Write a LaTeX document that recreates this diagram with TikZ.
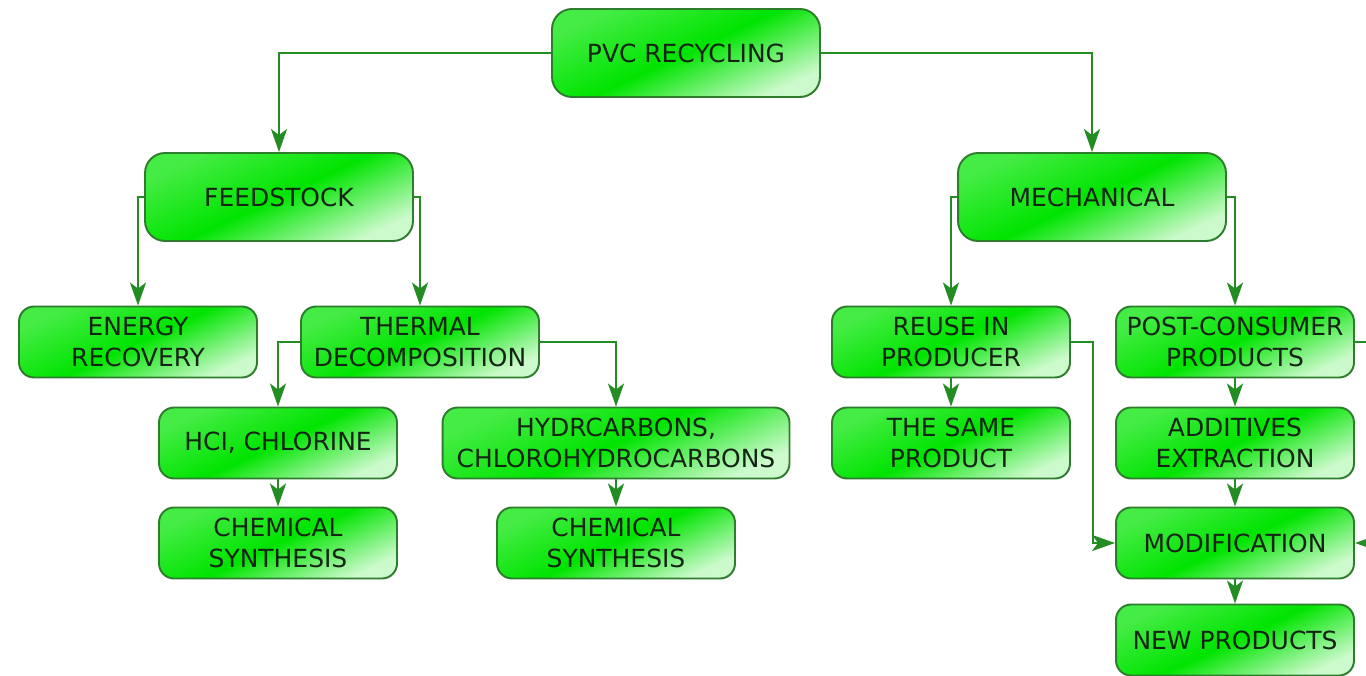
\documentclass[tikz,border=0pt]{standalone}
\usepackage{fontspec}
\setmainfont{DejaVu Sans}
\usetikzlibrary{arrows.meta}

\definecolor{boxline}{RGB}{45,125,45}
\definecolor{linkgreen}{RGB}{35,140,35}
\definecolor{boxtext}{RGB}{20,35,20}
\definecolor{boxgreen}{RGB}{0,228,0}
\definecolor{boxlight}{RGB}{70,236,70}
\definecolor{boxpale}{RGB}{205,250,205}

\tikzset{
  box/.style={draw=boxline, line width=1.1pt, rounded corners=0.3cm,
    top color=boxlight, bottom color=boxpale, middle color=boxgreen, shading angle=25,
    text=boxtext, align=center, inner sep=0pt,
    minimum width=4.76cm, minimum height=1.42cm,
    font=\fontsize{14.2}{17.6}\selectfont},
  bigbox/.style={box, rounded corners=0.4cm, minimum width=5.36cm, minimum height=1.76cm},
  link/.style={draw=linkgreen, line width=1.6pt, -{Stealth[length=0.46cm,width=0.32cm,inset=0.12cm]}}
}

\begin{document}
\begin{tikzpicture}[x=0.02cm,y=-0.02cm]
    \useasboundingbox (0,0) rectangle (1366,676);

    % Top
    \node[bigbox] (pvc) at (686,53) {PVC RECYCLING};
    \node[bigbox] (feed) at (279,197) {FEEDSTOCK};
    \node[bigbox] (mech) at (1092,197) {MECHANICAL};

    % Feedstock branch
    \node[box] (energy) at (138,342) {ENERGY\\RECOVERY};
    \node[box] (thermal) at (420,342) {THERMAL\\DECOMPOSITION};
    \node[box] (hcl) at (278,443) {HCI, CHLORINE};
    \node[box] (chemA) at (278,543) {CHEMICAL\\SYNTHESIS};
    \node[box, minimum width=6.94cm] (hydr) at (616,443) {HYDRCARBONS,\\CHLOROHYDROCARBONS};
    \node[box] (chemB) at (616,543) {CHEMICAL\\SYNTHESIS};

    % Mechanical branch
    \node[box] (reuse) at (951,342) {REUSE IN\\PRODUCER};
    \node[box] (same) at (951,443) {THE SAME\\PRODUCT};
    \node[box] (post) at (1235,342) {POST-CONSUMER\\PRODUCTS};
    \node[box] (addit) at (1235,443) {ADDITIVES\\EXTRACTION};
    \node[box] (modif) at (1235,543) {MODIFICATION};
    \node[box] (newp) at (1235,640) {NEW PRODUCTS};

    \coordinate (rbend) at (1093,342);
    \coordinate (pbend) at (1378,342);

    \draw[link] (pvc.west) -| (feed.north);
    \draw[link] (pvc.east) -| (mech.north);
    \draw[link] (feed.west) -| (energy.north);
    \draw[link] (feed.east) -| (thermal.north);
    \draw[link] (thermal.west) -| (hcl.north);
    \draw[link] (thermal.east) -| (hydr.north);
    \draw[link] (hcl) -- (chemA);
    \draw[link] (hydr) -- (chemB);
    \draw[link] (mech.west) -| (reuse.north);
    \draw[link] (mech.east) -| (post.north);
    \draw[link] (reuse) -- (same);
    \draw[link] (post) -- (addit);
    \draw[link] (addit) -- (modif);
    \draw[link] (modif) -- (newp);
    \draw[link] (reuse.east) -- (rbend) |- (modif.west);
    \draw[link] (post.east) -- (pbend) |- (modif.east);
\end{tikzpicture}
\end{document}
